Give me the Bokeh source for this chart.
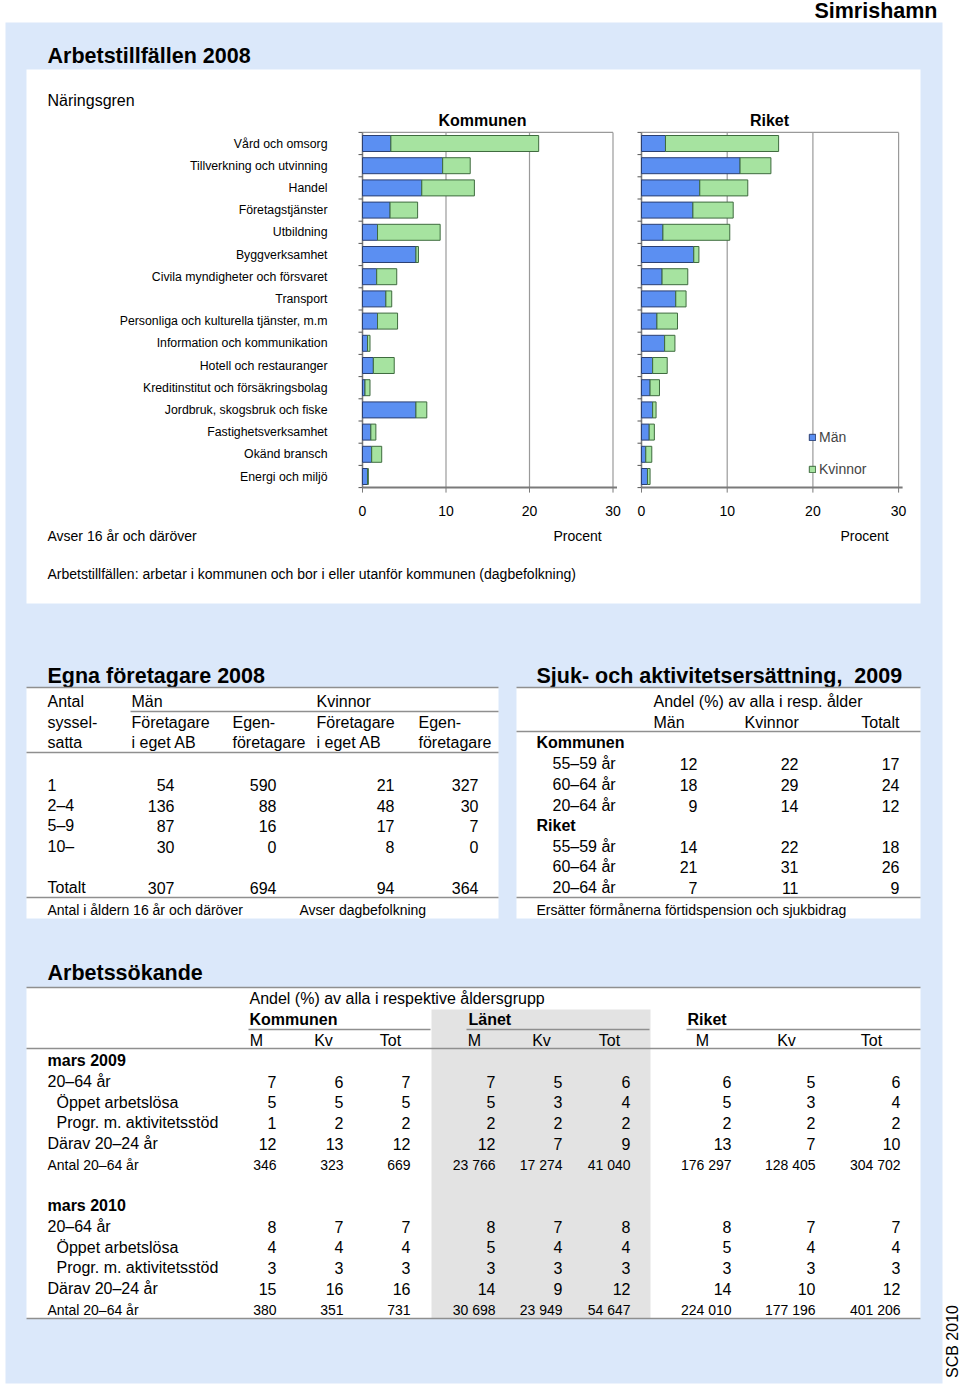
import math
from bokeh.plotting import figure
from bokeh.models import Range1d, Legend, LegendItem, ColumnDataSource
from bokeh.core.properties import value
from bokeh.embed import file_html
from bokeh.resources import INLINE

# ---------------- DATA ----------------
naringsgren = [
    "Vård och omsorg", "Tillverkning och utvinning", "Handel", "Företagstjänster",
    "Utbildning", "Byggverksamhet", "Civila myndigheter och försvaret", "Transport",
    "Personliga och kulturella tjänster, m.m", "Information och kommunikation",
    "Hotell och restauranger", "Kreditinstitut och försäkringsbolag",
    "Jordbruk, skogsbruk och fiske", "Fastighetsverksamhet", "Okänd bransch",
    "Energi och miljö",
]
kommun_man = [3.4, 9.6, 7.1, 3.3, 1.8, 6.4, 1.7, 2.8, 1.8, 0.6, 1.3, 0.3, 6.4, 1.0, 1.1, 0.6]
kommun_kvinnor = [17.7, 3.3, 6.3, 3.3, 7.5, 0.3, 2.4, 0.7, 2.4, 0.3, 2.5, 0.6, 1.3, 0.6, 1.2, 0.1]
riket_man = [2.8, 11.5, 6.8, 6.0, 2.5, 6.1, 2.4, 4.0, 1.8, 2.7, 1.3, 1.0, 1.3, 0.9, 0.5, 0.7]
riket_kvinnor = [13.2, 3.6, 5.6, 4.7, 7.8, 0.6, 3.0, 1.2, 2.4, 1.2, 1.7, 1.1, 0.4, 0.6, 0.7, 0.3]
x_ticks = [0, 10, 20, 30]

egna_rows = ["1", "2–4", "5–9", "10–"]
egna_man_ab = [54, 136, 87, 30]
egna_man_egen = [590, 88, 16, 0]
egna_kv_ab = [21, 48, 17, 8]
egna_kv_egen = [327, 30, 7, 0]
egna_totalt = [307, 694, 94, 364]

sjuk_ages = ["55–59 år", "60–64 år", "20–64 år"]
sjuk_kommun_man = [12, 18, 9]
sjuk_kommun_kv = [22, 29, 14]
sjuk_kommun_tot = [17, 24, 12]
sjuk_riket_man = [14, 21, 7]
sjuk_riket_kv = [22, 31, 11]
sjuk_riket_tot = [18, 26, 9]

as_rows = ["20–64 år", "Öppet arbetslösa", "Progr. m. aktivitetsstöd", "Därav 20–24 år"]
as_indent = [False, True, True, False]
as2009_kommun = {"M": [7, 5, 1, 12], "Kv": [6, 5, 2, 13], "Tot": [7, 5, 2, 12]}
as2009_lanet = {"M": [7, 5, 2, 12], "Kv": [5, 3, 2, 7], "Tot": [6, 4, 2, 9]}
as2009_riket = {"M": [6, 5, 2, 13], "Kv": [5, 3, 2, 7], "Tot": [6, 4, 2, 10]}
as2009_antal = [346, 323, 669, 23766, 17274, 41040, 176297, 128405, 304702]
as2010_kommun = {"M": [8, 4, 3, 15], "Kv": [7, 4, 3, 16], "Tot": [7, 4, 3, 16]}
as2010_lanet = {"M": [8, 5, 3, 14], "Kv": [7, 4, 3, 9], "Tot": [8, 4, 3, 12]}
as2010_riket = {"M": [8, 5, 3, 14], "Kv": [7, 4, 3, 10], "Tot": [7, 4, 3, 12]}
as2010_antal = [380, 351, 731, 30698, 23949, 54647, 224010, 177196, 401206]

# ---------------- STYLE ----------------
FONT_NAME = "Liberation Sans"
FONT = value(FONT_NAME)
PAGE_BG = "#dbe8fa"
LINE = "#8f8f8f"
BLUE, BLUE_EDGE = "#5b8ff2", "#2b3f72"
GREEN, GREEN_EDGE = "#a6e3a0", "#3e6b3e"
SHADE = "#e3e3e3"
TITLE = "21.5px"

X0, X1, Y0, Y1 = 0, 960, 0, 1387
p = figure(width=X1 - X0, height=Y1 - Y0, x_range=Range1d(X0, X1), y_range=Range1d(Y1, Y0),
           output_backend="svg", toolbar_location=None, min_border=0,
           x_axis_type=None, y_axis_type=None, outline_line_color=None,
           background_fill_color="white", border_fill_color="white")

# bar chart scales (pixel anchors -> extra ranges)
ROW0, ROWSTEP = 143, 22.2
K0, KPU = 362, 8.35
R0, RPU = 641, 8.57
p.extra_x_ranges = {
    "kx": Range1d((X0 - K0) / KPU, (X1 - K0) / KPU),
    "rx": Range1d((X0 - R0) / RPU, (X1 - R0) / RPU),
}
p.extra_y_ranges = {"cy": Range1d((Y1 - ROW0) / ROWSTEP, (Y0 - ROW0) / ROWSTEP)}


def txt(xs, ys, texts, size="16px", align="left", bold=False, color="#000000", angle=0.0, **kw):
    p.text(x=xs, y=ys, text=texts, text_font=FONT, text_font_size=size, text_align=align,
           text_baseline="middle", text_font_style="bold" if bold else "normal",
           text_color=color, angle=angle, **kw)


def hline(x0, x1, y, color=LINE, width=1.5):
    p.segment(x0=[x0], y0=[y], x1=[x1], y1=[y], line_color=color, line_width=width)


def fmt(n):
    return f"{n:,}".replace(",", " ")


# ---------------- BACKGROUNDS ----------------
p.quad(left=[5], right=[942], top=[22], bottom=[1383], fill_color=PAGE_BG, line_color=None)
p.quad(left=[26, 26, 516, 26], right=[920, 498, 920, 920], top=[69, 687, 687, 987],
       bottom=[603, 918, 918, 1318], fill_color="white", line_color=None)
p.quad(left=[431], right=[650], top=[1009], bottom=[1318], fill_color=SHADE, line_color=None)

# ---------------- HEADER ----------------
txt([937], [10], ["Simrishamn"], size="21.5px", align="right", bold=True)

# ---------------- SECTION 1: bar charts ----------------
txt([47], [55], ["Arbetstillfällen 2008"], size=TITLE, bold=True)
txt([47], [100], ["Näringsgren"], size="16px")
txt([482, 769], [120, 120], ["Kommunen", "Riket"], size="16px", align="center", bold=True)

n = len(naringsgren)
idx = list(range(n))
top_edge, bot_edge = -0.5, n - 0.5
txt([327] * n, idx, naringsgren, size="12.3px", align="right", y_range_name="cy")

renderers = {}
for name, man, kv, ppu in (("kx", kommun_man, kommun_kvinnor, KPU), ("rx", riket_man, riket_kvinnor, RPU)):
    gx = x_ticks[1:]
    p.segment(x0=gx, y0=[top_edge] * len(gx), x1=gx, y1=[bot_edge] * len(gx),
              line_color="#9a9a9a", line_width=1.2, x_range_name=name, y_range_name="cy")
    p.segment(x0=[x_ticks[0]], y0=[top_edge], x1=[x_ticks[-1]], y1=[top_edge],
              line_color="#9a9a9a", line_width=1.2, x_range_name=name, y_range_name="cy")
    # left axis with category ticks
    p.segment(x0=[0], y0=[top_edge], x1=[0], y1=[bot_edge], line_color="#7a7a7a",
              line_width=1.5, x_range_name=name, y_range_name="cy")
    bnds = [i + 0.5 for i in range(-1, n)]
    p.segment(x0=[-4 / ppu] * len(bnds), y0=bnds, x1=[0] * len(bnds), y1=bnds,
              line_color="#555555", line_width=1, x_range_name=name, y_range_name="cy")
    # bottom axis with ticks
    p.segment(x0=[x_ticks[0]], y0=[bot_edge], x1=[x_ticks[-1] + 4 / ppu], y1=[bot_edge],
              line_color="#7a7a7a", line_width=2, x_range_name=name, y_range_name="cy")
    p.segment(x0=x_ticks, y0=[bot_edge] * 4, x1=x_ticks, y1=[bot_edge + 5 / ROWSTEP] * 4,
              line_color="#7a7a7a", line_width=1, x_range_name=name, y_range_name="cy")
    src = ColumnDataSource(dict(y=idx, man=man, tot=[a + b for a, b in zip(man, kv)]))
    rm = p.hbar(y="y", left=0, right="man", height=0.72, source=src, fill_color=BLUE,
                line_color=BLUE_EDGE, line_width=1, x_range_name=name, y_range_name="cy")
    rk = p.hbar(y="y", left="man", right="tot", height=0.72, source=src, fill_color=GREEN,
                line_color=GREEN_EDGE, line_width=1, x_range_name=name, y_range_name="cy")
    renderers[name] = (rm, rk)
    txt(x_ticks, [510] * 4, [str(t) for t in x_ticks], size="14px", align="center", x_range_name=name)

legend = Legend(items=[LegendItem(label="Män", renderers=[renderers["kx"][0]]),
                       LegendItem(label="Kvinnor", renderers=[renderers["kx"][1]])],
                location=(808, 909), orientation="vertical", glyph_width=8, glyph_height=8,
                label_text_font=FONT_NAME, label_text_font_size="14px", label_standoff=3,
                label_height=18, spacing=14, padding=0, margin=0, border_line_color=None,
                background_fill_alpha=0)
p.add_layout(legend)

txt([47], [535], ["Avser 16 år och däröver"], size="14px")
txt([577, 864], [535, 535], ["Procent", "Procent"], size="14px", align="center")
txt([47], [573], ["Arbetstillfällen: arbetar i kommunen och bor i eller utanför kommunen (dagbefolkning)"], size="14px")

# ---------------- SECTION 2a: Egna företagare ----------------
txt([47], [675], ["Egna företagare 2008"], size=TITLE, bold=True)
hline(26, 498, 687)
hline(130, 498, 711)
hline(26, 498, 752)
hline(26, 498, 897)
txt([47, 131, 316], [701] * 3, ["Antal", "Män", "Kvinnor"])
txt([47, 131, 232, 316, 418], [722] * 5, ["syssel-", "Företagare", "Egen-", "Företagare", "Egen-"])
txt([47, 131, 232, 316, 418], [742] * 5, ["satta", "i eget AB", "företagare", "i eget AB", "företagare"])
ey = [784, 805, 825, 846]
txt([47] * 4 + [47], ey + [887], egna_rows + ["Totalt"])
for xr, col, tot in ((174, egna_man_ab, egna_totalt[0]), (276, egna_man_egen, egna_totalt[1]),
                     (394, egna_kv_ab, egna_totalt[2]), (478, egna_kv_egen, egna_totalt[3])):
    txt([xr] * 5, ey + [887], [fmt(v) for v in col] + [fmt(tot)], align="right")
txt([47, 299], [909, 909], ["Antal i åldern 16 år och däröver", "Avser dagbefolkning"], size="14px")

# ---------------- SECTION 2b: Sjuk- och aktivitetsersättning ----------------
txt([536], [675], ["Sjuk- och aktivitetsersättning,\u00a0 2009"], size=TITLE, bold=True)
hline(516, 920, 687)
hline(516, 920, 731)
hline(516, 920, 897)
txt([653], [701], ["Andel (%) av alla i resp. ålder"])
txt([653, 744], [722, 722], ["Män", "Kvinnor"])
txt([899], [722], ["Totalt"], align="right")
txt([536, 536], [742, 825], ["Kommunen", "Riket"], bold=True)
sy_k = [763, 784, 805]
sy_r = [846, 866, 887]
txt([552] * 6, sy_k + sy_r, sjuk_ages + sjuk_ages)
for xr, ck, cr in ((697, sjuk_kommun_man, sjuk_riket_man), (798, sjuk_kommun_kv, sjuk_riket_kv),
                   (899, sjuk_kommun_tot, sjuk_riket_tot)):
    txt([xr] * 6, sy_k + sy_r, [str(v) for v in ck + cr], align="right")
txt([536], [909], ["Ersätter förmånerna förtidspension och sjukbidrag"], size="14px")

# ---------------- SECTION 3: Arbetssökande ----------------
txt([47], [972], ["Arbetssökande"], size=TITLE, bold=True)
hline(26, 920, 987)
txt([249], [998], ["Andel (%) av alla i respektive åldersgrupp"])
txt([249, 468, 687], [1019] * 3, ["Kommunen", "Länet", "Riket"], bold=True)
hline(248, 430, 1029)
hline(466, 649, 1029)
hline(686, 920, 1029)
hline(26, 920, 1048)
hline(26, 920, 1318)
col_right = [276, 343, 410, 495, 562, 630, 731, 815, 900]
col_head_off = [20, 20, 20, 21, 21, 21, 29, 29, 29]
txt([r - o for r, o in zip(col_right, col_head_off)], [1040] * 9, ["M", "Kv", "Tot"] * 3, align="center")

for period, ybase, dk, dl, dr, antal in (("mars 2009", 1060, as2009_kommun, as2009_lanet, as2009_riket, as2009_antal),
                                         ("mars 2010", 1205, as2010_kommun, as2010_lanet, as2010_riket, as2010_antal)):
    txt([47], [ybase], [period], bold=True)
    ys = [ybase + 21 + 20.7 * i for i in range(len(as_rows))]
    txt([56 if ind else 47 for ind in as_indent], ys, as_rows)
    ci = 0
    for d in (dk, dl, dr):
        for key in ("M", "Kv", "Tot"):
            txt([col_right[ci]] * len(ys), ys, [str(v) for v in d[key]], align="right")
            ci += 1
    ya = ybase + 104
    txt([47], [ya], ["Antal 20–64 år"], size="14px")
    txt(col_right, [ya] * 9, [fmt(v) for v in antal], size="14px", align="right")

# ---------------- FOOTER ----------------
txt([952], [1341], ["SCB 2010"], size="16px", align="center", angle=math.pi / 2)

open("out.html", "w").write(file_html(p, INLINE))
